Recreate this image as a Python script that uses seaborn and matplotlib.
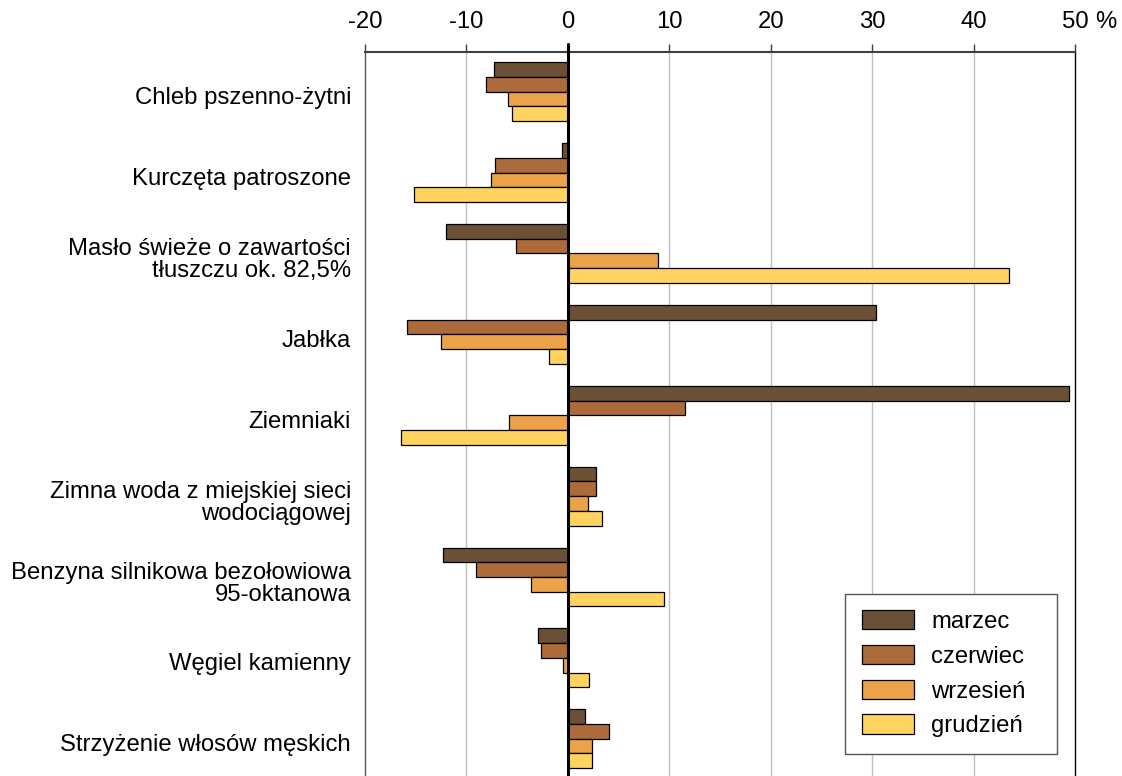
import matplotlib
matplotlib.use("Agg")
import matplotlib.pyplot as plt
import matplotlib.transforms as mtransforms
import seaborn as sns
import pandas as pd

categories = [
    "Chleb pszenno-żytni",
    "Kurczęta patroszone",
    "Masło świeże o zawartości\ntłuszczu ok. 82,5%",
    "Jabłka",
    "Ziemniaki",
    "Zimna woda z miejskiej sieci\nwodociągowej",
    "Benzyna silnikowa bezołowiowa\n95-oktanowa",
    "Węgiel kamienny",
    "Strzyżenie włosów męskich",
]
months = ["marzec", "czerwiec", "wrzesień", "grudzień"]
marzec = [-7.3, -0.6, -12.0, 30.4, 49.4, 2.8, -12.3, -2.9, 1.7]
czerwiec = [-8.1, -7.2, -5.1, -15.9, 11.5, 2.8, -9.1, -2.6, 4.1]
wrzesien = [-5.9, -7.6, 8.9, -12.5, -5.8, 2.0, -3.6, -0.5, 2.4]
grudzien = [-5.5, -15.2, 43.5, -1.9, -16.5, 3.4, 9.5, 2.1, 2.4]
x_ticks = [-20, -10, 0, 10, 20, 30, 40, 50]
x_tick_labels = ["-20", "-10", "0", "10", "20", "30", "40", "50"]
unit_label = "%"
colors = ["#6C5036", "#AD6A3A", "#EBA248", "#FFD35F"]

series = [marzec, czerwiec, wrzesien, grudzien]
rows = []
for m, vals in zip(months, series):
    for c, v in zip(categories, vals):
        rows.append({"kategoria": c, "miesiac": m, "wartosc": v})
df = pd.DataFrame(rows)

sns.set_theme(style="white")
plt.rcParams["font.family"] = ["Liberation Sans", "DejaVu Sans"]
plt.rcParams["text.color"] = "black"
plt.rcParams["xtick.color"] = "black"
plt.rcParams["ytick.color"] = "black"
plt.rcParams["xtick.labelcolor"] = "black"
plt.rcParams["ytick.labelcolor"] = "black"

FS = 17.2
W, H = 1122, 776
fig = plt.figure(figsize=(W / 100, H / 100), dpi=100)
ax = fig.add_axes([365 / W, 0, (1075 - 365) / W, 1 - 52 / H])

sns.barplot(
    data=df, y="kategoria", x="wartosc", hue="miesiac", orient="h",
    order=categories, hue_order=months, palette=colors, saturation=1,
    width=0.727, edgecolor="black", linewidth=0.9, errorbar=None, ax=ax,
    zorder=3,
)

ax.set_xlim(-20, 50)
ax.set_ylim(8.46, -0.49)
ax.set_xlabel("")
ax.set_ylabel("")

# grid
for t in x_ticks:
    if t in (-20, 0, 50):
        continue
    ax.axvline(t, color="#c0c0c0", lw=1.0, zorder=1)

TL = 5.8
PAD = 8
ax.xaxis.tick_top()
ax.set_xticks(x_ticks)
ax.set_xticklabels(x_tick_labels, fontsize=FS, color="black")
ax.tick_params(axis="x", direction="out", length=TL, width=1.0, color="#404040", pad=PAD)
ax.tick_params(axis="y", length=0, pad=10, labelsize=FS, labelcolor="black")
shift = mtransforms.ScaledTranslation(0, -4 / 100, fig.dpi_scale_trans)
for tk in ax.yaxis.get_major_ticks():
    lbl = tk.label1
    lbl.set_linespacing(1.0)
    lbl.set_horizontalalignment("right")
    lbl.set_color("black")
    lbl.set_transform(lbl.get_transform() + shift)

# zero line
trans = mtransforms.blended_transform_factory(ax.transData, ax.transAxes)
ax.plot([0, 0], [0, 1 + 8 / (H - 52)], color="black", lw=2.2, transform=trans,
        clip_on=False, zorder=5)

ax.annotate(unit_label, xy=(50, 1), xycoords=trans, xytext=(14.5, TL + PAD),
            textcoords="offset points", fontsize=FS, ha="left", va="bottom",
            color="black")

ax.spines["bottom"].set_visible(False)
ax.spines["top"].set_color("#404040")
ax.spines["top"].set_linewidth(1.5)
ax.spines["left"].set_color("#555555")
ax.spines["left"].set_linewidth(1.0)
ax.spines["right"].set_color("black")
ax.spines["right"].set_linewidth(1.0)

leg = ax.legend(
    loc="lower left", bbox_to_anchor=(845 / W, 1 - 754 / H, 212 / W, 158 / H),
    bbox_transform=fig.transFigure, mode="expand",
    borderaxespad=0, frameon=True, fancybox=False, fontsize=FS,
    handlelength=2.2, handleheight=0.85, handletextpad=0.7, labelspacing=0.5,
    borderpad=0.7, title=None,
)
leg.get_frame().set_edgecolor("#555555")
leg.get_frame().set_linewidth(1.0)
leg.get_frame().set_facecolor("white")
leg.get_frame().set_alpha(1)
for t in leg.get_texts():
    t.set_color("black")

fig.savefig("out.png", dpi=100)
